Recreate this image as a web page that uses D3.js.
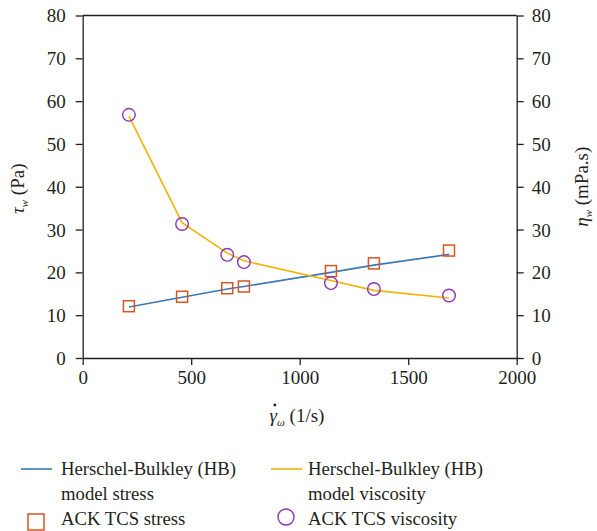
<!DOCTYPE html>
<html>
<head>
<meta charset="utf-8">
<script src="https://cdn.jsdelivr.net/npm/d3@7"></script>
<style>
  html, body { margin: 0; padding: 0; background: #fff; }
  svg { display: block; }
  text { font-family: "Liberation Serif", "DejaVu Serif", serif; fill: #231f20; }
</style>
</head>
<body>
<svg id="chart" width="597" height="531"></svg>
<script>
// Wall shear rate (1/s)
const shearRate = [213, 458, 666, 743, 1144, 1342, 1688];
// Measured wall shear stress, ACK TCS (Pa)
const measuredStress = [12.1, 14.3, 16.3, 16.7, 20.3, 22.1, 25.1];
// Herschel-Bulkley model stress (Pa)
const modelStress = [11.9, 14.2, 16.1, 16.7, 20.0, 21.7, 24.2];
// Measured viscosity, ACK TCS (mPa.s)
const measuredViscosity = [56.8, 31.3, 24.1, 22.4, 17.5, 16.1, 14.6];
// Herschel-Bulkley model viscosity (mPa.s)
const modelViscosity = [56.5, 31.6, 24.5, 22.7, 18.1, 15.8, 14.0];

const xTicks = [0, 500, 1000, 1500, 2000];
const yTicks = [0, 10, 20, 30, 40, 50, 60, 70, 80];

const svg = d3.select("#chart");
const m = { left: 82.7, right: 516.7, top: 15.5, bottom: 358 };

const x = d3.scaleLinear().domain([0, 2000]).range([m.left, m.right]);
const yL = d3.scaleLinear().domain([0, 80]).range([m.bottom, m.top]);
const yR = d3.scaleLinear().domain([0, 80]).range([m.bottom, m.top]);

const ink = "#231f20";
const blue = "#3a78b8";
const gold = "#f3b300";
const orange = "#d9541e";
const purple = "#8e34b5";
const fmt = d3.format("d");

// Axes
const styleAxis = g => {
  g.select(".domain").attr("stroke", ink).attr("stroke-width", 1.3);
  g.selectAll(".tick line").attr("stroke", ink).attr("stroke-width", 1.3);
  g.selectAll(".tick text").attr("font-size", 19).attr("fill", ink)
    .attr("font-family", "Liberation Serif, DejaVu Serif, serif");
};

svg.append("g")
  .attr("transform", `translate(0,${m.bottom})`)
  .call(d3.axisBottom(x).tickValues(xTicks).tickFormat(fmt).tickSize(7).tickSizeOuter(0).tickPadding(6))
  .call(styleAxis);

svg.append("g")
  .attr("transform", `translate(${m.left},0)`)
  .call(d3.axisLeft(yL).tickValues(yTicks).tickFormat(fmt).tickSize(7).tickSizeOuter(0).tickPadding(10))
  .call(styleAxis)
  .selectAll(".tick text").attr("dy", "0.34em");

svg.append("g")
  .attr("transform", `translate(${m.right},0)`)
  .call(d3.axisRight(yR).tickValues(yTicks).tickFormat(fmt).tickSize(7).tickSizeOuter(0).tickPadding(8))
  .call(styleAxis)
  .selectAll(".tick text").attr("dy", "0.34em");

// Top frame line
svg.append("line")
  .attr("x1", x(0)).attr("x2", x(2000))
  .attr("y1", yL(80)).attr("y2", yL(80))
  .attr("stroke", ink).attr("stroke-width", 1.3);

// Axis titles
const yTitleL = svg.append("text")
  .attr("transform", `translate(24,${(m.top + m.bottom) / 2 + 2}) rotate(-90)`)
  .attr("text-anchor", "middle").attr("font-size", 19);
yTitleL.append("tspan").attr("font-style", "italic").text("τ");
yTitleL.append("tspan").attr("font-style", "italic").attr("font-size", 11).attr("dy", 4).text("w");
yTitleL.append("tspan").attr("dy", -4).text(" (Pa)");

const yTitleR = svg.append("text")
  .attr("transform", `translate(588,${(m.top + m.bottom) / 2}) rotate(-90)`)
  .attr("text-anchor", "middle").attr("font-size", 19);
yTitleR.append("tspan").attr("font-style", "italic").text("η");
yTitleR.append("tspan").attr("font-style", "italic").attr("font-size", 11).attr("dy", 4).text("w");
yTitleR.append("tspan").attr("dy", -4).text(" (mPa.s)");

const xTitleY = 422;
const xTitle = svg.append("text")
  .attr("x", 297).attr("y", xTitleY)
  .attr("text-anchor", "middle").attr("font-size", 19);
xTitle.append("tspan").attr("font-style", "italic").text("γ");
xTitle.append("tspan").attr("font-style", "italic").attr("font-size", 11).attr("dy", 4).text("ω");
xTitle.append("tspan").attr("dy", -4).text(" (1/s)");
// Overdot (time derivative) above the gamma
const gExt = xTitle.node().getExtentOfChar(0);
svg.append("circle")
  .attr("cx", gExt.x + gExt.width / 2 + 1.5).attr("cy", xTitleY - 17)
  .attr("r", 1.4).attr("fill", ink);

// Model curves
const lineL = d3.line().x(d => x(d[0])).y(d => yL(d[1]));
const lineR = d3.line().x(d => x(d[0])).y(d => yR(d[1]));

svg.append("path")
  .datum(d3.zip(shearRate, modelStress))
  .attr("d", lineL).attr("fill", "none")
  .attr("stroke", blue).attr("stroke-width", 1.6);

svg.append("path")
  .datum(d3.zip(shearRate, modelViscosity))
  .attr("d", lineR).attr("fill", "none")
  .attr("stroke", gold).attr("stroke-width", 1.6);

// Measured points
const sq = 11;
svg.append("g").selectAll("rect")
  .data(d3.zip(shearRate, measuredStress))
  .join("rect")
  .attr("x", d => x(d[0]) - sq / 2).attr("y", d => yL(d[1]) - sq / 2)
  .attr("width", sq).attr("height", sq)
  .attr("fill", "none").attr("stroke", orange).attr("stroke-width", 1.5);

svg.append("g").selectAll("circle")
  .data(d3.zip(shearRate, measuredViscosity))
  .join("circle")
  .attr("cx", d => x(d[0])).attr("cy", d => yR(d[1]))
  .attr("r", 6.3)
  .attr("fill", "none").attr("stroke", purple).attr("stroke-width", 1.4);

// Legend
const lg = svg.append("g").attr("font-size", 18.7);
lg.append("line").attr("x1", 21).attr("x2", 52).attr("y1", 469).attr("y2", 469)
  .attr("stroke", blue).attr("stroke-width", 1.6);
lg.append("text").attr("x", 61).attr("y", 475).text("Herschel-Bulkley (HB)");
lg.append("text").attr("x", 61).attr("y", 500).text("model stress");
lg.append("rect").attr("x", 28).attr("y", 514).attr("width", 16).attr("height", 16)
  .attr("fill", "none").attr("stroke", orange).attr("stroke-width", 1.5);
lg.append("text").attr("x", 61).attr("y", 525).text("ACK TCS stress");

lg.append("line").attr("x1", 271).attr("x2", 302).attr("y1", 469).attr("y2", 469)
  .attr("stroke", gold).attr("stroke-width", 1.6);
lg.append("text").attr("x", 308).attr("y", 475).text("Herschel-Bulkley (HB)");
lg.append("text").attr("x", 308).attr("y", 500).text("model viscosity");
lg.append("circle").attr("cx", 286).attr("cy", 517).attr("r", 8)
  .attr("fill", "none").attr("stroke", purple).attr("stroke-width", 1.4);
lg.append("text").attr("x", 308).attr("y", 525).text("ACK TCS viscosity");
</script>
</body>
</html>
